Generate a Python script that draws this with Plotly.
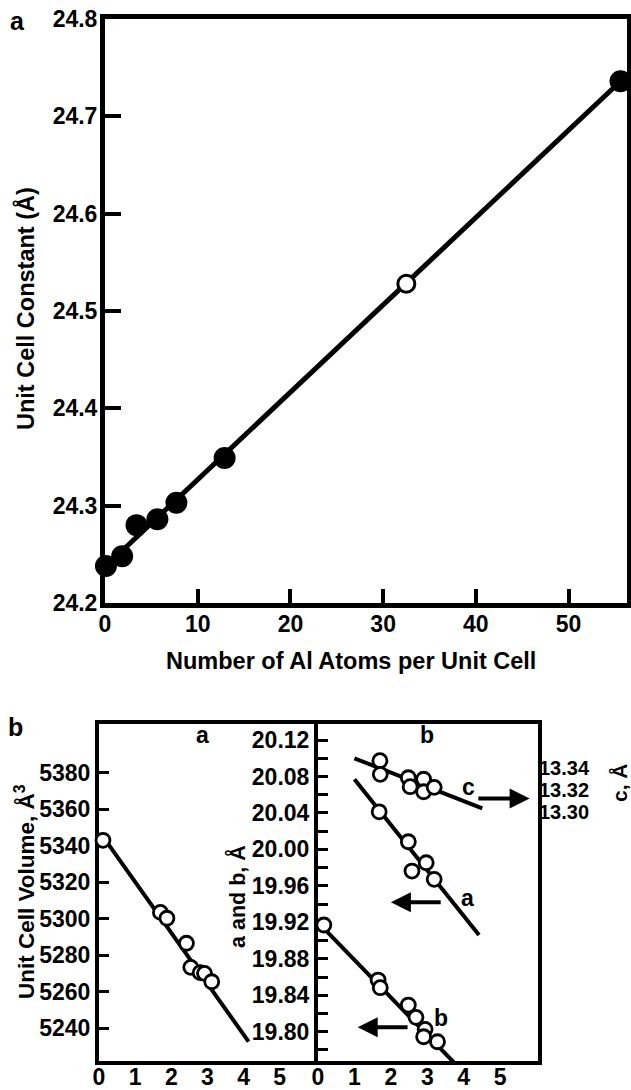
import plotly.graph_objects as go

W, H = 631, 1090
FONT = "Liberation Sans, Arial, Helvetica, sans-serif"

# ---------------- Panel a data ----------------
al_atoms = [0.1, 1.85, 3.4, 5.65, 7.7, 12.9, 55.6]
cell_const = [24.238, 24.248, 24.280, 24.286, 24.303, 24.349, 24.736]
open_atoms = [32.5]
open_const = [24.528]
fit_atoms = [0.1, 55.6]
fit_const = [24.238, 24.736]
top_x_ticks = [0, 10, 20, 30, 40, 50]
top_y_ticks = [24.2, 24.3, 24.4, 24.5, 24.6, 24.7, 24.8]

# ---------------- Panel b (left: volume) ----------------
vol_x = [0.11, 1.70, 1.88, 2.42, 2.54, 2.80, 2.92, 3.12]
vol = [5343.0, 5303.5, 5300.3, 5286.6, 5273.4, 5270.5, 5270.1, 5265.5]
vol_fit_x = [0.11, 4.14]
vol_fit = [5345.0, 5232.7]
vol_ticks = [5240, 5260, 5280, 5300, 5320, 5340, 5360, 5380]

# ---------------- Panel b (right: a, b, c) ----------------
c_x = [1.70, 1.71, 2.48, 2.53, 2.90, 2.90, 3.19]
c_val = [13.3467, 13.3342, 13.3311, 13.3229, 13.3297, 13.3183, 13.3223]
c_fit_x = [1.00, 4.51]
c_fit = [13.3489, 13.3031]

a_x = [1.68, 2.48, 2.58, 2.97, 3.19]
a_val = [20.0413, 20.0084, 19.9763, 19.9854, 19.9672]
a_fit_x = [1.00, 4.42]
a_fit = [20.0769, 19.9060]

b_x = [0.16, 1.65, 1.71, 2.48, 2.69, 2.94, 2.90, 3.28]
b_val = [19.9171, 19.8567, 19.8483, 19.8293, 19.8158, 19.8026, 19.7945, 19.7890]
b_fit_x = [0.16, 3.80]
b_fit = [19.9134, 19.7635]

ab_ticks = [19.80, 19.84, 19.88, 19.92, 19.96, 20.00, 20.04, 20.08, 20.12]
c_ticks = [13.30, 13.32, 13.34]
b_x_ticks = [0, 1, 2, 3, 4, 5]


def px(x):
    return x / W


def py(y):
    return 1 - y / H


def f(size):
    return dict(family=FONT, size=size, color="black", weight="bold")


fig = go.Figure()

# panel a
fig.add_trace(go.Scatter(x=fit_atoms, y=fit_const, mode="lines",
                         line=dict(color="black", width=5), xaxis="x", yaxis="y"))
fig.add_trace(go.Scatter(x=al_atoms, y=cell_const, mode="markers", cliponaxis=False,
                         marker=dict(size=22, color="black"), xaxis="x", yaxis="y"))
fig.add_trace(go.Scatter(x=open_atoms, y=open_const, mode="markers", cliponaxis=False,
                         marker=dict(size=17, color="white", line=dict(color="black", width=3)),
                         xaxis="x", yaxis="y"))

open_marker = dict(size=14, color="white", line=dict(color="black", width=2.8))

# panel b left
fig.add_trace(go.Scatter(x=vol_fit_x, y=vol_fit, mode="lines",
                         line=dict(color="black", width=4), xaxis="x2", yaxis="y2"))
fig.add_trace(go.Scatter(x=vol_x, y=vol, mode="markers", cliponaxis=False,
                         marker=open_marker, xaxis="x2", yaxis="y2"))

# panel b right
fig.add_trace(go.Scatter(x=a_fit_x, y=a_fit, mode="lines",
                         line=dict(color="black", width=4), xaxis="x3", yaxis="y3"))
fig.add_trace(go.Scatter(x=b_fit_x, y=b_fit, mode="lines",
                         line=dict(color="black", width=4), xaxis="x3", yaxis="y3"))
fig.add_trace(go.Scatter(x=a_x, y=a_val, mode="markers", cliponaxis=False,
                         marker=open_marker, xaxis="x3", yaxis="y3"))
fig.add_trace(go.Scatter(x=b_x, y=b_val, mode="markers", cliponaxis=False,
                         marker=open_marker, xaxis="x3", yaxis="y3"))
fig.add_trace(go.Scatter(x=c_fit_x, y=c_fit, mode="lines",
                         line=dict(color="black", width=4), xaxis="x3", yaxis="y4"))
fig.add_trace(go.Scatter(x=c_x, y=c_val, mode="markers", cliponaxis=False,
                         marker=open_marker, xaxis="x3", yaxis="y4"))

tickfont = f(23)
common = dict(showgrid=False, zeroline=False, showline=True, linecolor="black",
              mirror=True, layer="below traces", tickcolor="black", automargin=False)

fig.update_layout(
    width=W, height=H, margin=dict(l=0, r=0, t=0, b=0, pad=0, autoexpand=False),
    paper_bgcolor="white", plot_bgcolor="white", showlegend=False,
    font=dict(family=FONT, color="black", weight="bold"),
    xaxis=dict(domain=[px(105), px(627)], range=[0, 56.3], anchor="y",
               tickvals=top_x_ticks, ticks="inside", ticklen=14, tickwidth=4,
               linewidth=5, tickfont=tickfont, ticklabelstandoff=-4, **common),
    yaxis=dict(domain=[py(603), py(19)], range=[24.2, 24.8], anchor="x",
               tickvals=top_y_ticks, tickformat=".1f", ticks="inside", ticklen=16,
               tickwidth=4, linewidth=5, tickfont=tickfont, ticklabelstandoff=-2, **common),
    xaxis2=dict(domain=[px(99), px(314)], range=[0, 5.95], anchor="y2",
                tickvals=b_x_ticks, ticks="", linewidth=4, tickfont=tickfont,
                ticklabelstandoff=-8, **common),
    yaxis2=dict(domain=[py(1061), py(724)], range=[5222.1, 5406.7], anchor="x2",
                tickvals=vol_ticks, ticks="inside", ticklen=10, tickwidth=3,
                linewidth=4, tickfont=tickfont, **common),
    xaxis3=dict(domain=[px(318), px(538)], range=[0, 6.04], anchor="y3",
                tickvals=b_x_ticks, ticks="", linewidth=4, tickfont=tickfont,
                ticklabelstandoff=-8, **common),
    yaxis3=dict(domain=[py(1061), py(724)], range=[19.7679, 20.1376], anchor="x3",
                tickvals=ab_ticks, tickformat=".2f", ticks="inside", ticklen=10,
                tickwidth=3, linewidth=4, tickfont=tickfont,
                minor=dict(dtick=0.02, tick0=19.80, ticks="inside", ticklen=10,
                           tickwidth=3, tickcolor="black"),
                **common),
    yaxis4=dict(range=[13.0718, 13.3803], overlaying="y3", side="right", anchor="x3",
                tickvals=c_ticks, tickformat=".2f", ticks="", showline=False,
                showgrid=False, zeroline=False, tickfont=f(20), automargin=False),
)

annotations = [
    # panel labels
    dict(x=px(17), y=py(21), text="a", font=f(25)),
    dict(x=px(15), y=py(727), text="b", font=f(25)),
    # top axis titles
    dict(x=px(351), y=py(661), text="Number of Al Atoms per Unit Cell", font=f(23.5)),
    dict(x=px(25), y=py(309), text="Unit Cell Constant (Å)", textangle=-90, font=f(23.5)),
    # bottom axis titles
    dict(x=px(25), y=py(892), text="Unit Cell Volume, Å<sup>3</sup>", textangle=-90, font=f(22.5)),
    dict(x=px(237), y=py(897), text="a and b, Å", textangle=-90, font=f(21.5)),
    dict(x=px(619), y=py(783), text="c, Å", textangle=-90, font=f(21)),
    # subplot labels
    dict(x=px(202), y=py(735), text="a", font=f(23)),
    dict(x=px(427), y=py(735), text="b", font=f(23)),
]
for a in annotations:
    a.update(xref="paper", yref="paper", showarrow=False, xanchor="center", yanchor="middle")

# series labels and arrows in the right subplot (data coordinates)
series_labels = [
    dict(x=4.13, y=20.0688, text="c"),
    dict(x=4.11, y=19.9464, text="a"),
    dict(x=3.39, y=19.8147, text="b"),
]
for s in series_labels:
    annotations.append(dict(xref="x3", yref="y3", showarrow=False, font=f(23),
                            xanchor="center", yanchor="middle", **s))

arrows = [
    dict(x=5.81, y=20.056, ax=4.36, ay=20.056),
    dict(x=2.00, y=19.942, ax=3.41, ay=19.942),
    dict(x=1.09, y=19.8048, ax=2.50, ay=19.8048),
]
for a in arrows:
    annotations.append(dict(xref="x3", yref="y3", axref="x3", ayref="y3", text="",
                            showarrow=True, arrowhead=2, arrowsize=1, arrowwidth=4,
                            arrowcolor="black", standoff=0, startstandoff=0, **a))

fig.update_layout(annotations=annotations)
fig.write_html("out.html")
